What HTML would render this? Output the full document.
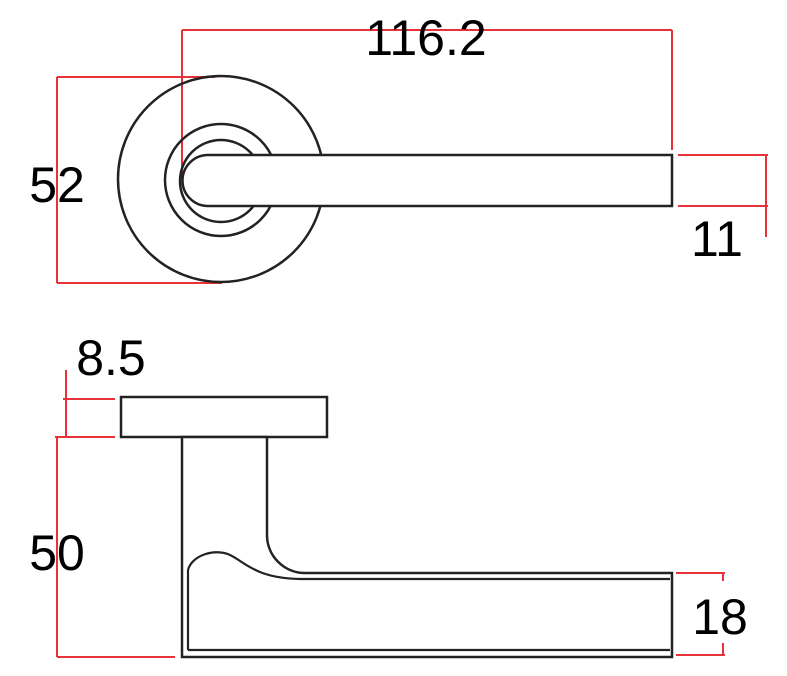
<!DOCTYPE html>
<html><head><style>
html,body{margin:0;padding:0;background:#fff;}
svg{display:block}
text{font-family:"Liberation Sans",sans-serif;font-size:50px;fill:#000;}
</style></head><body>
<svg width="787" height="676" viewBox="0 0 787 676" xmlns="http://www.w3.org/2000/svg">
<g stroke="#e8323a" stroke-width="2" fill="none">
<path d="M182 30H672M182 30V178M672 30V150"/>
<path d="M57 77V283M57 77H215M57 283H222"/>
<path d="M678 155H768M678 206H768M766 155V237"/>
<path d="M66 370V437M63 399H115M55 437H115"/>
<path d="M57 437V657M57 657H175"/>
<path d="M676 573H725M676 655H725M723 573V581M723 643V655"/>
</g>
<g stroke="#222" stroke-width="2.5" fill="none">
<circle cx="221" cy="179" r="103"/>
<circle cx="221" cy="180" r="56"/>
<circle cx="221" cy="181" r="41"/>
</g>
<path d="M208 155H672V206H208A25.5 25.5 0 0 1 208 155Z" fill="#fff" stroke="#222" stroke-width="2.5"/>
<rect x="121" y="397" width="206" height="40" fill="#fff" stroke="#222" stroke-width="2.5"/>
<path d="M182 437H267V535A38 38 0 0 0 305 573H672V657H182Z" fill="#fff" stroke="#222" stroke-width="2.5"/>
<path d="M188 650V570C192 555 215 548 230 555C245 562 255 578 300 579H670M188 650H670" fill="none" stroke="#222" stroke-width="2.2"/>
<text x="426" y="55" text-anchor="middle">116.2</text>
<text x="57" y="202" text-anchor="middle">52</text>
<text x="717" y="256" text-anchor="middle">11</text>
<text x="111" y="375" text-anchor="middle">8.5</text>
<text x="57" y="570" text-anchor="middle">50</text>
<text x="720" y="634" text-anchor="middle">18</text>
</svg>
</body></html>
